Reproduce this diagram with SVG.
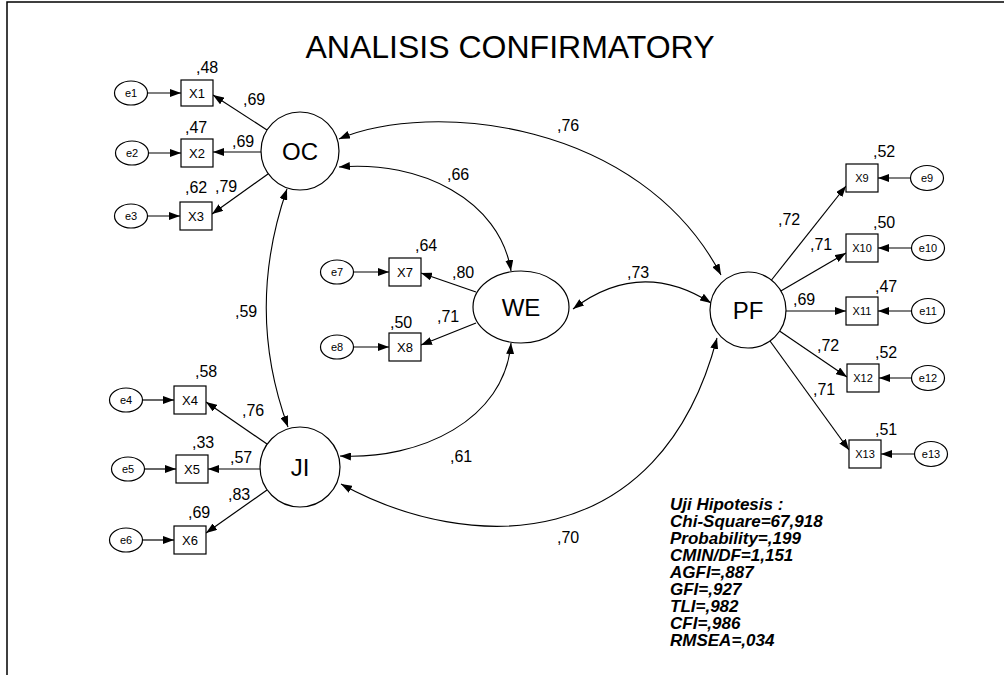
<svg xmlns="http://www.w3.org/2000/svg" width="1004" height="675" viewBox="0 0 1004 675">
<defs>
<marker id="ah" viewBox="0 0 11 8" refX="11" refY="4" markerWidth="11" markerHeight="8" markerUnits="userSpaceOnUse" orient="auto-start-reverse"><path d="M0,0 L11,4 L0,8 z" fill="#000"/></marker>
</defs>
<style>
.bg{fill:#fff}
.lat{fill:#fff;stroke:#000;stroke-width:1.2}
.box{fill:#fff;stroke:#000;stroke-width:1.2}
.err{fill:#fff;stroke:#000;stroke-width:1.2}
.ln{fill:none;stroke:#000;stroke-width:1.2;marker-end:url(#ah)}
.arc{fill:none;stroke:#000;stroke-width:1.1;marker-start:url(#ah);marker-end:url(#ah)}
text{font-family:"Liberation Sans",Arial,sans-serif;fill:#000}
.lt{font-size:24px;text-anchor:middle;dominant-baseline:central}
.bt{font-size:13px;text-anchor:middle;dominant-baseline:central}
.bs{font-size:11px;text-anchor:middle;dominant-baseline:central}
.et{font-size:11px;text-anchor:middle;dominant-baseline:central}
.v{font-size:16px}
.fit{font-size:17px;font-weight:bold;font-style:italic}
</style>
<rect class="bg" x="0" y="0" width="1004" height="675"/>
<path d="M7,675 L7,2 L1004,2" fill="none" stroke="#000" stroke-width="1.5"/>
<text x="510" y="58" font-size="32" text-anchor="middle">ANALISIS CONFIRMATORY</text>

<g id="connectors">
<!-- errors to indicators -->
<line class="ln" x1="147.5" y1="93" x2="181" y2="93"/>
<line class="ln" x1="148.5" y1="153" x2="181" y2="153"/>
<line class="ln" x1="147.5" y1="216" x2="180" y2="216"/>
<line class="ln" x1="142.5" y1="400" x2="174" y2="400"/>
<line class="ln" x1="144.5" y1="469" x2="176" y2="469"/>
<line class="ln" x1="142.5" y1="540" x2="174" y2="540"/>
<line class="ln" x1="353.5" y1="272" x2="389" y2="272"/>
<line class="ln" x1="353.5" y1="347" x2="389" y2="347"/>
<line class="ln" x1="910.5" y1="178" x2="878" y2="178"/>
<line class="ln" x1="911.5" y1="248" x2="878" y2="248"/>
<line class="ln" x1="911.5" y1="311" x2="878" y2="311"/>
<line class="ln" x1="911.5" y1="378" x2="879" y2="378"/>
<line class="ln" x1="914.5" y1="454" x2="881" y2="454"/>
<!-- loadings -->
<line class="ln" x1="267" y1="130" x2="213" y2="95"/>
<line class="ln" x1="261" y1="152" x2="213" y2="152"/>
<line class="ln" x1="268" y1="174" x2="212" y2="214"/>
<line class="ln" x1="267" y1="444" x2="206" y2="402"/>
<line class="ln" x1="260" y1="469" x2="208" y2="469"/>
<line class="ln" x1="267" y1="490" x2="206" y2="533"/>
<line class="ln" x1="476" y1="292" x2="421" y2="273"/>
<line class="ln" x1="476" y1="323" x2="421" y2="345"/>
<line class="ln" x1="771.5" y1="280" x2="846" y2="186"/>
<line class="ln" x1="780.8" y1="291" x2="846" y2="253"/>
<line class="ln" x1="786" y1="311" x2="846" y2="311"/>
<line class="ln" x1="779.5" y1="331" x2="847" y2="377"/>
<line class="ln" x1="770" y1="341" x2="849" y2="450"/>
<!-- covariances -->
<path class="arc" d="M339,139 C430,100 640,120 721,275"/>
<path class="arc" d="M339,167 C420,160 500,200 511,271"/>
<path class="arc" d="M573,309 Q640,258 711,303"/>
<path class="arc" d="M287,189 Q245,310 288,427"/>
<path class="arc" d="M511,343 C505,420 420,460 340,456"/>
<path class="arc" d="M341,484 C470,555 660,555 717,338"/>
</g>

<g id="OC"><circle class="lat" cx="300" cy="151" r="39"/><text class="lt" x="300" y="151">OC</text></g>
<g id="JI"><circle class="lat" cx="300" cy="467" r="40"/><text class="lt" x="300" y="467">JI</text></g>
<g id="WE"><ellipse class="lat" cx="521" cy="307" rx="48" ry="36"/><text class="lt" x="521" y="307">WE</text></g>
<g id="PF"><circle class="lat" cx="748" cy="310" r="38"/><text class="lt" x="748" y="310">PF</text></g>

<g id="X1"><rect class="box" x="181" y="80" width="32" height="26"/><text class="bt" x="197" y="93">X1</text></g>
<g id="X2"><rect class="box" x="181" y="139" width="32" height="28"/><text class="bt" x="197" y="153">X2</text></g>
<g id="X3"><rect class="box" x="180" y="202" width="32" height="28"/><text class="bt" x="196" y="216">X3</text></g>
<g id="X4"><rect class="box" x="174" y="386" width="32" height="28"/><text class="bt" x="190" y="400">X4</text></g>
<g id="X5"><rect class="box" x="176" y="455" width="32" height="28"/><text class="bt" x="192" y="469">X5</text></g>
<g id="X6"><rect class="box" x="174" y="526" width="32" height="28"/><text class="bt" x="190" y="540">X6</text></g>
<g id="X7"><rect class="box" x="389" y="258" width="32" height="28"/><text class="bt" x="405" y="272">X7</text></g>
<g id="X8"><rect class="box" x="389" y="333" width="32" height="28"/><text class="bt" x="405" y="347">X8</text></g>
<g id="X9"><rect class="box" x="846" y="164" width="32" height="28"/><text class="bs" x="862" y="178">X9</text></g>
<g id="X10"><rect class="box" x="846" y="234" width="32" height="28"/><text class="bs" x="862" y="248">X10</text></g>
<g id="X11"><rect class="box" x="846" y="297" width="32" height="28"/><text class="bs" x="862" y="311">X11</text></g>
<g id="X12"><rect class="box" x="847" y="364" width="32" height="28"/><text class="bs" x="863" y="378">X12</text></g>
<g id="X13"><rect class="box" x="849" y="440" width="32" height="28"/><text class="bs" x="865" y="454">X13</text></g>

<g id="e1"><ellipse class="err" cx="131" cy="93" rx="16.5" ry="12"/><text class="et" x="131" y="93">e1</text></g>
<g id="e2"><ellipse class="err" cx="132" cy="153" rx="16.5" ry="12"/><text class="et" x="132" y="153">e2</text></g>
<g id="e3"><ellipse class="err" cx="131" cy="216" rx="16.5" ry="12"/><text class="et" x="131" y="216">e3</text></g>
<g id="e4"><ellipse class="err" cx="126" cy="400" rx="16.5" ry="12"/><text class="et" x="126" y="400">e4</text></g>
<g id="e5"><ellipse class="err" cx="128" cy="469" rx="16.5" ry="12"/><text class="et" x="128" y="469">e5</text></g>
<g id="e6"><ellipse class="err" cx="126" cy="540" rx="16.5" ry="12"/><text class="et" x="126" y="540">e6</text></g>
<g id="e7"><ellipse class="err" cx="337" cy="272" rx="16.5" ry="12"/><text class="et" x="337" y="272">e7</text></g>
<g id="e8"><ellipse class="err" cx="337" cy="347" rx="16.5" ry="12"/><text class="et" x="337" y="347">e8</text></g>
<g id="e9"><ellipse class="err" cx="927" cy="178" rx="16.5" ry="12.5"/><text class="et" x="927" y="178">e9</text></g>
<g id="e10"><ellipse class="err" cx="928" cy="248" rx="16.5" ry="12.5"/><text class="et" x="928" y="248">e10</text></g>
<g id="e11"><ellipse class="err" cx="928" cy="311" rx="16.5" ry="12.5"/><text class="et" x="928" y="311">e11</text></g>
<g id="e12"><ellipse class="err" cx="928" cy="378" rx="16.5" ry="12.5"/><text class="et" x="928" y="378">e12</text></g>
<g id="e13"><ellipse class="err" cx="931" cy="454" rx="16.5" ry="12.5"/><text class="et" x="931" y="454">e13</text></g>

<g id="labels">
<text class="v" x="196" y="73">,48</text>
<text class="v" x="243" y="105">,69</text>
<text class="v" x="185" y="133">,47</text>
<text class="v" x="232" y="147">,69</text>
<text class="v" x="185" y="193">,62</text>
<text class="v" x="215" y="192">,79</text>
<text class="v" x="195" y="377">,58</text>
<text class="v" x="242" y="416">,76</text>
<text class="v" x="192" y="448">,33</text>
<text class="v" x="230" y="463">,57</text>
<text class="v" x="228" y="500">,83</text>
<text class="v" x="188" y="518">,69</text>
<text class="v" x="415" y="251">,64</text>
<text class="v" x="452" y="278">,80</text>
<text class="v" x="437" y="322">,71</text>
<text class="v" x="390" y="328">,50</text>
<text class="v" x="447" y="180">,66</text>
<text class="v" x="557" y="131">,76</text>
<text class="v" x="627" y="278">,73</text>
<text class="v" x="235" y="317">,59</text>
<text class="v" x="450" y="462">,61</text>
<text class="v" x="557" y="543">,70</text>
<text class="v" x="873" y="157">,52</text>
<text class="v" x="778" y="225">,72</text>
<text class="v" x="873" y="228">,50</text>
<text class="v" x="810" y="250">,71</text>
<text class="v" x="875" y="292">,47</text>
<text class="v" x="793" y="305">,69</text>
<text class="v" x="875" y="358">,52</text>
<text class="v" x="817" y="351">,72</text>
<text class="v" x="875" y="435">,51</text>
<text class="v" x="813" y="395">,71</text>
</g>

<g id="fit">
<text class="fit" x="670" y="510">Uji Hipotesis :</text>
<text class="fit" x="670" y="527">Chi-Square=67,918</text>
<text class="fit" x="670" y="544">Probability=,199</text>
<text class="fit" x="670" y="561">CMIN/DF=1,151</text>
<text class="fit" x="670" y="578">AGFI=,887</text>
<text class="fit" x="670" y="595">GFI=,927</text>
<text class="fit" x="670" y="612">TLI=,982</text>
<text class="fit" x="670" y="629">CFI=,986</text>
<text class="fit" x="670" y="646">RMSEA=,034</text>
</g>
</svg>
